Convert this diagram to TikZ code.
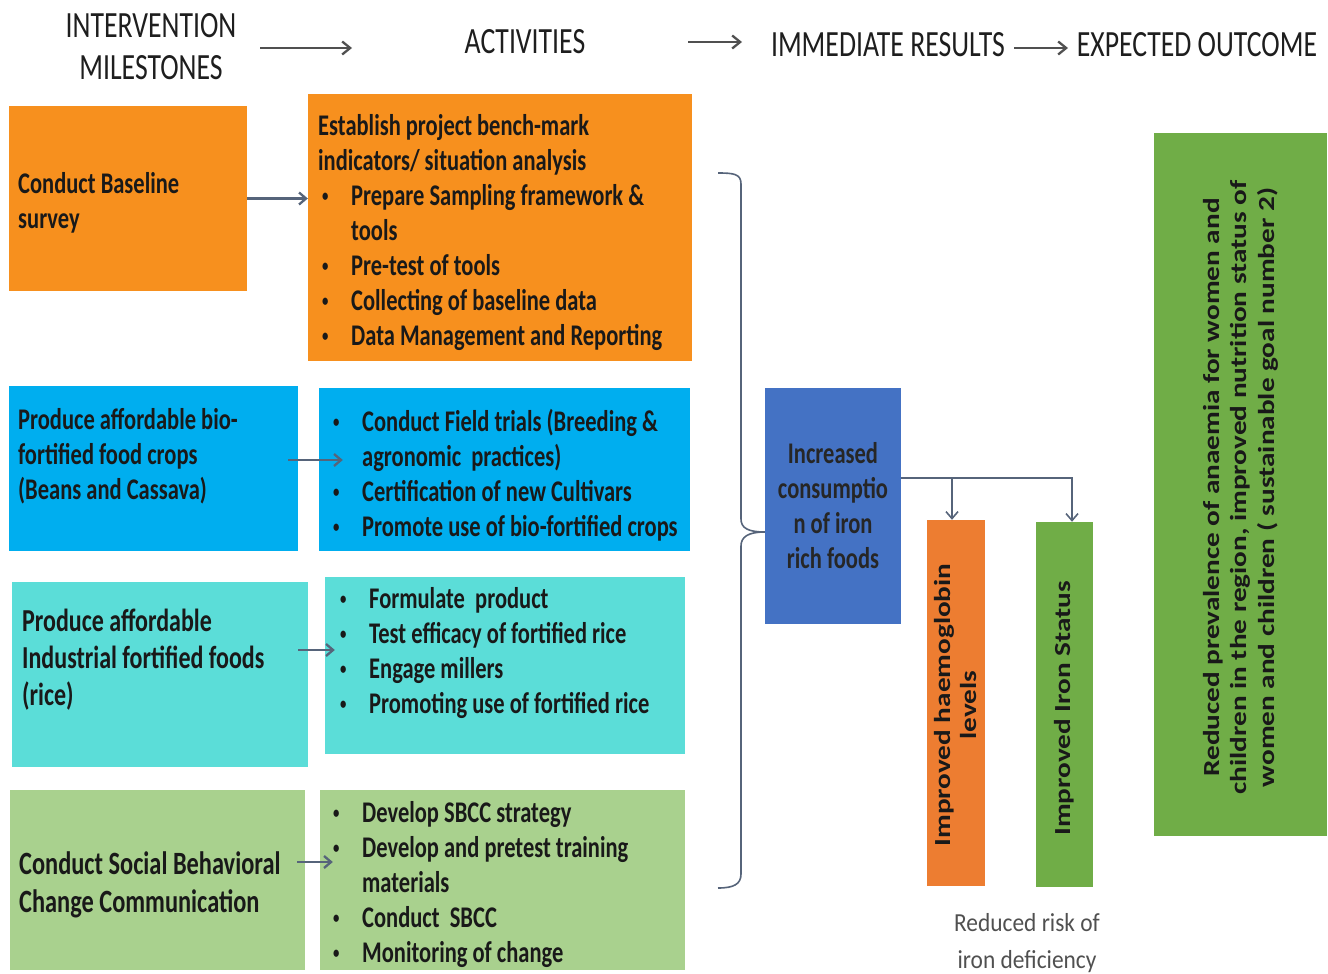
\documentclass[tikz,border=0pt]{standalone}
\usepackage{fontspec}
\setmainfont{Carlito}
\newfontfamily\bfont[FakeStretch=0.75]{Carlito}
\newfontfamily\hfont[FakeStretch=0.75]{Carlito}
\newfontfamily\rfont[FakeStretch=1.27]{Carlito}
\newfontfamily\nfont[FakeStretch=0.9]{Carlito}
\usetikzlibrary{arrows.meta}
\definecolor{orA}{HTML}{F7901E}
\definecolor{blA}{HTML}{00AEEF}
\definecolor{tqA}{HTML}{5BDDD8}
\definecolor{lgA}{HTML}{A9D18E}
\definecolor{dbA}{HTML}{4472C4}
\definecolor{orB}{HTML}{ED7D31}
\definecolor{grB}{HTML}{70AD47}
\definecolor{lnA}{HTML}{56647A}
\definecolor{hgA}{HTML}{1E1E1E}
\definecolor{agA}{HTML}{505050}
\newcommand\bul[1]{\makebox[29pt][l]{\raisebox{3.5pt}{\fontsize{17}{17}\selectfont\textbullet}}#1}
\newcommand\cnt[1]{\hspace*{29pt}#1}
\begin{document}
\begin{tikzpicture}[x=1pt,y=-1pt,
  box/.style={draw=none,inner sep=0pt,fill=#1},
  txt/.style={anchor=north west,inner sep=0pt,align=left,text=black!90,font=\bfont\bfseries\fontsize{30}{35}\selectfont},
  head/.style={inner sep=0pt,align=center,text=hgA,font=\hfont\fontsize{37}{42}\selectfont},
  rot/.style={rotate=90,inner sep=0pt,align=center,text=black!90,font=\rfont\bfseries\fontsize{23}{26}\selectfont},
  harr/.style={-{Straight Barb[length=8pt,width=13pt]},line width=2.3pt,draw=agA},
  barr/.style={-{Straight Barb[length=7pt,width=12pt]},line width=2.3pt,draw=lnA},
  brc/.style={line width=1.6pt,draw=lnA}]
\useasboundingbox (0,0) rectangle (1328,974);

% headers
\node[head] (h1) at (151,47) {INTERVENTION\\MILESTONES};
\node[head] (h2) at (525,42) {ACTIVITIES};
\node[head] (h3) at (888,45) {IMMEDIATE RESULTS};
\node[head] (h4) at (1197,45) {EXPECTED OUTCOME};
\coordinate (ha1) at (260,48); \coordinate (ha2) at (352,48);
\coordinate (hb1) at (688,42); \coordinate (hb2) at (742,42);
\coordinate (hc1) at (1014,48); \coordinate (hc2) at (1068,48);
\draw[harr] (ha1) -- (ha2);
\draw[harr] (hb1) -- (hb2);
\draw[harr] (hc1) -- (hc2);

% boxes
\node[box=orA,minimum width=238,minimum height=185] (m1) at (128,198.5) {};
\node[box=orA,minimum width=384,minimum height=267] (a1) at (500,227.5) {};
\node[box=blA,minimum width=289,minimum height=165] (m2) at (153.5,468.5) {};
\node[box=blA,minimum width=371,minimum height=163] (a2) at (504.5,469.5) {};
\node[box=tqA,minimum width=296,minimum height=185] (m3) at (160,674.5) {};
\node[box=tqA,minimum width=360,minimum height=177] (a3) at (505,665.5) {};
\node[box=lgA,minimum width=295,minimum height=180] (m4) at (157.5,880) {};
\node[box=lgA,minimum width=365,minimum height=180] (a4) at (502.5,880) {};

% texts
\node[txt] (tm1) at (18,172) {Conduct Baseline\\survey};
\node[txt] (ta1) at (318,114) {Establish project bench-mark\\indicators/ situation analysis\\
\hspace*{4pt}\bul{Prepare Sampling framework \&}\\
\hspace*{4pt}\cnt{tools}\\
\hspace*{4pt}\bul{Pre-test of tools}\\
\hspace*{4pt}\bul{Collecting of baseline data}\\
\hspace*{4pt}\bul{Data Management and Reporting}};
\node[txt] (tm2) at (18,408) {Produce affordable bio-\\fortified food crops\\(Beans and Cassava)};
\node[txt] (ta2) at (333,409) {\bul{Conduct Field trials (Breeding \&}\\\cnt{agronomic\ \ practices)}\\\bul{Certification of new Cultivars}\\\bul{Promote use of bio-fortified crops}};
\node[txt,font=\bfont\bfseries\fontsize{32}{37}\selectfont] (tm3) at (22,609) {Produce affordable\\Industrial fortified foods\\(rice)};
\node[txt] (ta3) at (340,587) {\bul{Formulate\ \ product}\\\bul{Test efficacy of fortified rice}\\\bul{Engage millers}\\\bul{Promoting use of fortified rice}};
\node[txt,font=\bfont\bfseries\fontsize{32.5}{38}\selectfont] (tm4) at (19,851) {Conduct Social Behavioral\\Change Communication};
\node[txt] (ta4) at (333,801) {\bul{Develop SBCC strategy}\\\bul{Develop and pretest training}\\\cnt{materials}\\\bul{Conduct\ \ SBCC}\\\bul{Monitoring of change}};

% arrows milestone -> activities
\draw[barr] (m1.east) -- (m1.east -| a1.west);
\draw[barr] ([xshift=-10pt,yshift=8.5pt]m2.east) -- ([xshift=24pt,yshift=9.5pt]a2.west);
\draw[barr] ([xshift=-10pt,yshift=24.5pt]m3.east) -- ([xshift=10pt,yshift=15.5pt]a3.west);
\draw[barr] ([xshift=-8pt,yshift=18pt]m4.east) -- ([xshift=13pt,yshift=18pt]a4.west);

% immediate results
\node[box=dbA,minimum width=136,minimum height=236,align=center,font=\bfont\bfseries\fontsize{30}{35}\selectfont,text=black!85] (inc) at (833,506) {Increased\\consumptio\\n of iron\\rich foods};
\node[box=orB,minimum width=58,minimum height=366] (hb) at (956,703) {};
\node[box=grB,minimum width=57,minimum height=365] (ir) at (1064.5,704.5) {};
\node[rot] (thb) at ([yshift=-2pt]hb.center) {Improved haemoglobin\\levels};
\node[rot] (tir) at ([yshift=-4pt]ir.center) {Improved Iron Status};
\node[inner sep=0pt,align=center,text=agA,font=\nfont\fontsize{26}{37}\selectfont] (risk) at (1027,943) {Reduced risk of\\iron deficiency};

% expected outcome
\node[box=grB,minimum width=173,minimum height=703] (out) at (1240.5,484.5) {};
\node[rot,font=\rfont\bfseries\fontsize{23}{27.5}\selectfont] (tout) at ([yshift=-3pt]out.center) {Reduced prevalence of anaemia for women and\\children in the region, improved nutrition status of\\women and children ( sustainable goal number 2)};

% brace
\coordinate (bt) at ([yshift=-26pt]inc.west);
\draw[brc] (718,173) .. controls (734,173) and (741,174) .. (741,184) -- (741,519)
  .. controls (741,528) and (748,532) .. (bt);
\draw[brc] (bt) .. controls (748,532) and (741,537) .. (741,546) -- (741,874)
  .. controls (741,884) and (734,888) .. (718,888);

% branches
\draw[barr,line width=1.6pt] ([yshift=28pt]inc.east) -| ([xshift=-4pt]hb.north);
\draw[barr,line width=1.6pt] ([yshift=28pt]inc.east) -| ([xshift=7.5pt]ir.north);
\end{tikzpicture}
\end{document}
